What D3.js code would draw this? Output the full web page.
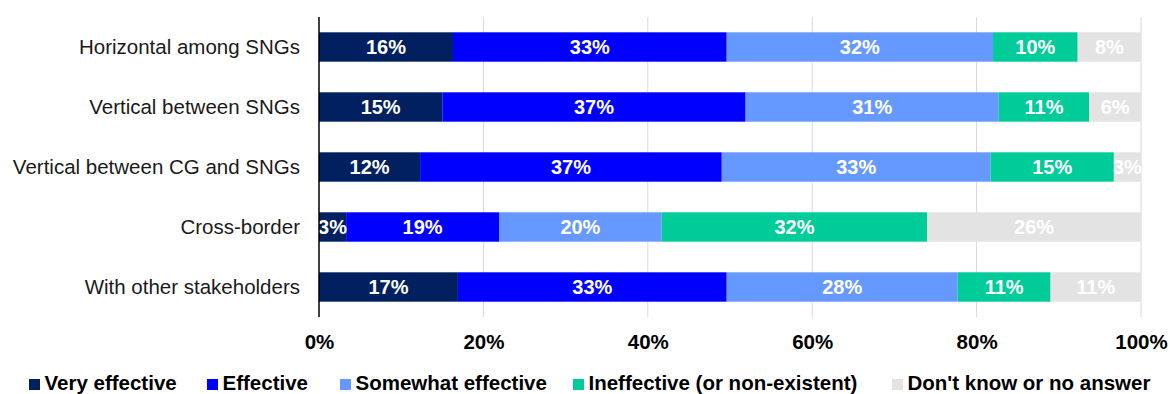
<!DOCTYPE html>
<html>
<head>
<meta charset="utf-8">
<script src="https://cdn.jsdelivr.net/npm/d3@7"></script>
<style>
  html, body { margin: 0; padding: 0; background: #fff; }
  svg { display: block; font-family: "Liberation Sans", Arial, sans-serif; }
</style>
</head>
<body>
<svg id="chart" width="1170" height="394"></svg>
<script>
// Coordination types (one bar each)
const categories = [
  "Horizontal among SNGs",
  "Vertical between SNGs",
  "Vertical between CG and SNGs",
  "Cross-border",
  "With other stakeholders"
];

// Response categories, stacked left to right
const seriesNames = [
  "Very effective",
  "Effective",
  "Somewhat effective",
  "Ineffective (or non-existent)",
  "Don't know or no answer"
];

// Share of respondents (%) per response, in the order of `categories`
const veryEffective     = [16.3, 15.0, 12.3,  3.3, 16.9];
const effective         = [33.3, 36.9, 36.7, 18.6, 32.7];
const somewhatEffective = [32.4, 30.8, 32.7, 19.8, 28.1];
const ineffective       = [10.3, 11.0, 15.0, 32.3, 11.3];
const dontKnow          = [ 7.7,  6.3,  3.3, 26.0, 11.0];

const tickValues = [0, 20, 40, 60, 80, 100];

const colors = ["#002060", "#0000FF", "#6699FF", "#00CC99", "#E3E3E3"];

// Build rows for d3.stack
const seriesArrays = [veryEffective, effective, somewhatEffective, ineffective, dontKnow];
const rows = categories.map((c, i) => {
  const r = { category: c };
  seriesNames.forEach((s, j) => { r[s] = seriesArrays[j][i]; });
  return r;
});

const stacked = d3.stack().keys(seriesNames)(rows);

const svg = d3.select("#chart");
const margin = { left: 319, right: 29, top: 17, bottom: 77 };
const W = 1170, H = 394;

const x = d3.scaleLinear().domain([0, 100]).range([margin.left, W - margin.right]);
const y = d3.scaleBand().domain(categories)
  .range([margin.top, H - margin.bottom])
  .paddingInner(0.51).paddingOuter(0.255);

const color = d3.scaleOrdinal().domain(seriesNames).range(colors);

// Vertical gridlines
svg.append("g")
  .selectAll("line")
  .data(tickValues.filter(d => d > 0))
  .join("line")
  .attr("x1", d => x(d)).attr("x2", d => x(d))
  .attr("y1", margin.top).attr("y2", H - margin.bottom)
  .attr("stroke", "#D9D9D9").attr("stroke-width", 1);

// Bars
const layer = svg.append("g")
  .selectAll("g")
  .data(stacked)
  .join("g")
  .attr("fill", d => color(d.key));

layer.selectAll("rect")
  .data(d => d.map(v => ({ key: d.key, v })))
  .join("rect")
  .attr("x", d => x(d.v[0]))
  .attr("width", d => x(d.v[1]) - x(d.v[0]))
  .attr("y", d => y(d.v.data.category))
  .attr("height", y.bandwidth());

// Value labels
const labels = svg.append("g");
stacked.forEach(s => {
  s.forEach(v => {
    const val = v[1] - v[0];
    labels.append("text")
      .attr("x", (x(v[0]) + x(v[1])) / 2)
      .attr("y", y(v.data.category) + y.bandwidth() / 2)
      .attr("dy", "0.36em")
      .attr("text-anchor", "middle")
      .attr("fill", "#FFFFFF")
      .attr("font-weight", "bold")
      .attr("font-size", 20)
      .text(Math.round(val) + "%");
  });
});

// Y axis line and category labels
svg.append("line")
  .attr("x1", x(0)).attr("x2", x(0))
  .attr("y1", margin.top).attr("y2", H - margin.bottom)
  .attr("stroke", "#000").attr("stroke-width", 1.5);

svg.append("g")
  .selectAll("text")
  .data(categories)
  .join("text")
  .attr("x", 300)
  .attr("y", d => y(d) + y.bandwidth() / 2)
  .attr("dy", "0.36em")
  .attr("text-anchor", "end")
  .attr("font-size", 20.5)
  .attr("fill", "#1a1a1a")
  .text(d => d);

// X axis tick labels
const xAxis = d3.axisBottom(x).tickValues(tickValues).tickSize(0).tickPadding(0)
  .tickFormat(d => d + "%");
const gx = svg.append("g")
  .attr("transform", `translate(0, ${H - margin.bottom})`)
  .call(xAxis);
gx.select(".domain").remove();
gx.selectAll("text")
  .attr("y", 31.5)
  .attr("dy", 0)
  .attr("font-size", 20.5)
  .attr("font-weight", "bold")
  .attr("font-family", "Liberation Sans, Arial, sans-serif")
  .attr("fill", "#000");

// Legend: swatch positions along the bottom row
const legendX = [29, 207, 340, 573, 892];
const legend = svg.append("g").attr("transform", "translate(0, 390)");
seriesNames.forEach((name, i) => {
  const g = legend.append("g").attr("transform", `translate(${legendX[i]},0)`);
  g.append("rect")
    .attr("x", 0).attr("y", -11)
    .attr("width", 11).attr("height", 11)
    .attr("fill", colors[i]);
  g.append("text")
    .attr("x", 15.5)
    .attr("y", 0)
    .attr("font-size", 20.5)
    .attr("font-weight", "bold")
    .attr("fill", "#000")
    .text(name);
});
</script>
</body>
</html>
